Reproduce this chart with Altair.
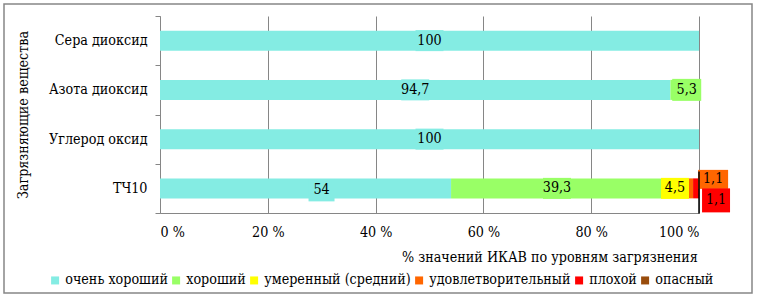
import altair as alt
import pandas as pd

categories = ["Сера диоксид", "Азота диоксид", "Углерод оксид", "ТЧ10"]
levels = ["очень хороший", "хороший", "умеренный (средний)", "удовлетворительный", "плохой", "опасный"]
colors = ["#84ECE3", "#99FF66", "#FFFF00", "#FF6600", "#FF0000", "#994C0C"]
sera = [100, 0, 0, 0, 0, 0]
azota = [94.7, 5.3, 0, 0, 0, 0]
uglerod = [100, 0, 0, 0, 0, 0]
tch10 = [54, 39.3, 4.5, 1.1, 1.1, 0]
x_ticks = [0, 20, 40, 60, 80, 100]

rows = []
for cat, vals in zip(categories, [sera, azota, uglerod, tch10]):
    for i, (lev, v) in enumerate(zip(levels, vals)):
        if v > 0:
            rows.append({"cat": cat, "level": lev, "order": i, "value": v,
                         "label": str(v).replace(".", ",")})
df = pd.DataFrame(rows)

FONT = "DejaVu Serif Condensed"
FS = 14.2
GRAY = "#868686"

special = {
    ("ТЧ10", "очень хороший"): (16, 2, 26, 22),
    ("Азота диоксид", "хороший"): (2, 0, 29, 22),
    ("ТЧ10", "удовлетворительный"): (23, -9, 30, 19),
    ("ТЧ10", "плохой"): (20, 12, 28, 24),
}
DEFAULT_BOX = (28, 21)

base = alt.Chart(df).transform_stack(
    stack="value", groupby=["cat"], as_=["x0", "x1"],
    sort=[alt.SortField("order", order="ascending")]
).transform_calculate(mid="(datum.x0 + datum.x1) / 2")

yenc = alt.Y("cat:N", sort=categories,
             scale=alt.Scale(paddingInner=0, paddingOuter=0),
             axis=alt.Axis(title="Загрязняющие вещества", titleFont=FONT, titleFontSize=FS,
                           titleFontWeight="normal", titleColor="black",
                           titleAngle=270, titleX=-137, titleY=98.5,
                           titleAlign="center", titleBaseline="middle",
                           labelFont=FONT, labelFontSize=FS, labelColor="black",
                           labelPadding=8, tickSize=5, tickBand="extent",
                           tickColor=GRAY, domainColor=GRAY, grid=False))

xscale = alt.Scale(domain=[0, 100], nice=False)

bars = base.mark_bar(size=20).encode(
    x=alt.X("x0:Q", scale=xscale,
            axis=alt.Axis(values=x_ticks, labelExpr="datum.value + ' %'",
                          title="% значений ИКАВ по уровням загрязнения",
                          titleFont=FONT, titleFontSize=FS, titleFontWeight="normal",
                          titleColor="black", titleX=389.5, titleY=44,
                          titleAlign="center", titleBaseline="middle",
                          labelFont=FONT, labelFontSize=FS, labelColor="black",
                          labelPadding=12, ticks=False, domainColor=GRAY,
                          grid=True, gridColor=GRAY, gridOpacity=1)),
    x2="x1:Q",
    y=yenc,
    color=alt.Color("level:N", sort=levels,
                    scale=alt.Scale(domain=levels, range=colors),
                    legend=alt.Legend(title=None, orient="none", direction="horizontal",
                                      columns=6, legendX=-112, legendY=257,
                                      symbolType="square", symbolSize=64,
                                      symbolStrokeWidth=0, symbolOpacity=1,
                                      labelFont=FONT, labelFontSize=FS,
                                      labelColor="black", labelOffset=3,
                                      columnPadding=1)),
)

fill_enc = alt.Fill("level:N", scale=alt.Scale(domain=levels, range=colors), legend=None)


def box_path(w, h):
    s = max(w, h)
    a = w / s
    b = h / s
    return f"M{-a},{-b}H{a}V{b}H{-a}Z", s * s


layers = [bars]

keys_expr = " || ".join(
    f"(datum.cat == '{c}' && datum.level == '{l}')" for (c, l) in special
)
w, h = DEFAULT_BOX
p, sz = box_path(w, h)
gen = base.transform_filter(f"!({keys_expr})")
layers.append(gen.mark_point(shape=p, size=sz, filled=True, opacity=1, strokeWidth=0).encode(
    x=alt.X("mid:Q", scale=xscale), y=alt.Y("cat:N", sort=categories), fill=fill_enc))
layers.append(gen.mark_text(font=FONT, fontSize=FS, color="black", baseline="middle").encode(
    x=alt.X("mid:Q", scale=xscale), y=alt.Y("cat:N", sort=categories), text="label:N"))

for (c, l), (dx, dy, bw, bh) in special.items():
    sub = base.transform_filter(f"datum.cat == '{c}' && datum.level == '{l}'")
    p, sz = box_path(bw, bh)
    layers.append(sub.mark_point(shape=p, size=sz, filled=True, opacity=1, strokeWidth=0,
                                 xOffset=dx, yOffset=dy).encode(
        x=alt.X("mid:Q", scale=xscale), y=alt.Y("cat:N", sort=categories), fill=fill_enc))
    layers.append(sub.mark_text(font=FONT, fontSize=FS, color="black", baseline="middle",
                                dx=dx, dy=dy).encode(
        x=alt.X("mid:Q", scale=xscale), y=alt.Y("cat:N", sort=categories), text="label:N"))

leader = base.transform_filter("datum.cat == 'ТЧ10' && datum.level == 'плохой'").mark_rule(
    color="black", strokeWidth=1.5, yOffset=-17, y2Offset=25).encode(
    x=alt.X("x1:Q", scale=xscale), y=alt.Y("cat:N", sort=categories), y2="cat:N")
layers.append(leader)

frame = alt.Chart(alt.Data(values=[{}])).mark_rect(fillOpacity=0, stroke=GRAY, strokeWidth=1.5).encode(
    x=alt.value(-156), x2=alt.value(592), y=alt.value(-12), y2=alt.value(277))
layers.append(frame)

chart = alt.layer(*layers).resolve_scale(fill="independent").properties(
    width=539, height=197,
    autosize=alt.AutoSizeParams(type="none"),
    padding={"left": 160, "top": 16, "right": 60, "bottom": 87},
).configure_view(stroke=None)

chart.save("out.html", embed_options={"renderer": "svg", "actions": False})
